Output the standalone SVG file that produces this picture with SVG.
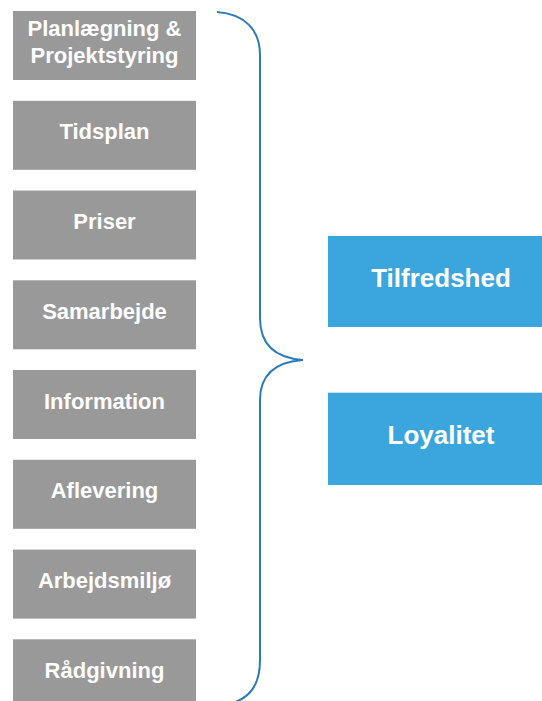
<svg xmlns="http://www.w3.org/2000/svg" width="542" height="701" viewBox="0 0 542 701">
<style>
.g{fill:#999999}
.b{fill:#3ba6dd}
.t{font-family:"Liberation Sans",Arial,sans-serif;font-weight:bold;fill:#ffffff;text-anchor:middle}
.s{font-size:22px}
.l{font-size:26px}
.br{fill:none;stroke:#2a7bba;stroke-width:2}
</style>
<rect width="542" height="701" fill="#ffffff"/>
<g id="n1"><rect class="g" x="13" y="11" width="183" height="69"/><text class="t s" x="104.5" y="36">Planlægning &amp;</text><text class="t s" x="104.5" y="63.3">Projektstyring</text></g>
<g id="n2"><rect class="g" x="13" y="100.8" width="183" height="69"/><text class="t s" x="104.5" y="139.3">Tidsplan</text></g>
<g id="n3"><rect class="g" x="13" y="190.5" width="183" height="69"/><text class="t s" x="104.5" y="229">Priser</text></g>
<g id="n4"><rect class="g" x="13" y="280.3" width="183" height="69"/><text class="t s" x="104.5" y="318.5">Samarbejde</text></g>
<g id="n5"><rect class="g" x="13" y="370" width="183" height="69"/><text class="t s" x="104.5" y="408.5">Information</text></g>
<g id="n6"><rect class="g" x="13" y="459.8" width="183" height="69"/><text class="t s" x="104.5" y="498.3">Aflevering</text></g>
<g id="n7"><rect class="g" x="13" y="549.6" width="183" height="69"/><text class="t s" x="104.5" y="588">Arbejdsmiljø</text></g>
<g id="n8"><rect class="g" x="13" y="639.3" width="183" height="69"/><text class="t s" x="104.5" y="677.8">Rådgivning</text></g>
<g id="n9"><rect class="b" x="328" y="236" width="226" height="91"/><text class="t l" x="441" y="286.7">Tilfredshed</text></g>
<g id="n10"><rect class="b" x="328" y="392.7" width="226" height="92.3"/><text class="t l" x="441" y="444.3">Loyalitet</text></g>
<g id="connectors">
<path class="br" d="M 217 12 C 245 14, 260 30, 260 55 L 260 318 C 260 345, 275 358, 303 360 C 275 362, 260 375, 260 400 L 260 660 C 260 685, 250 697, 233 703"/>
</g>
</svg>
